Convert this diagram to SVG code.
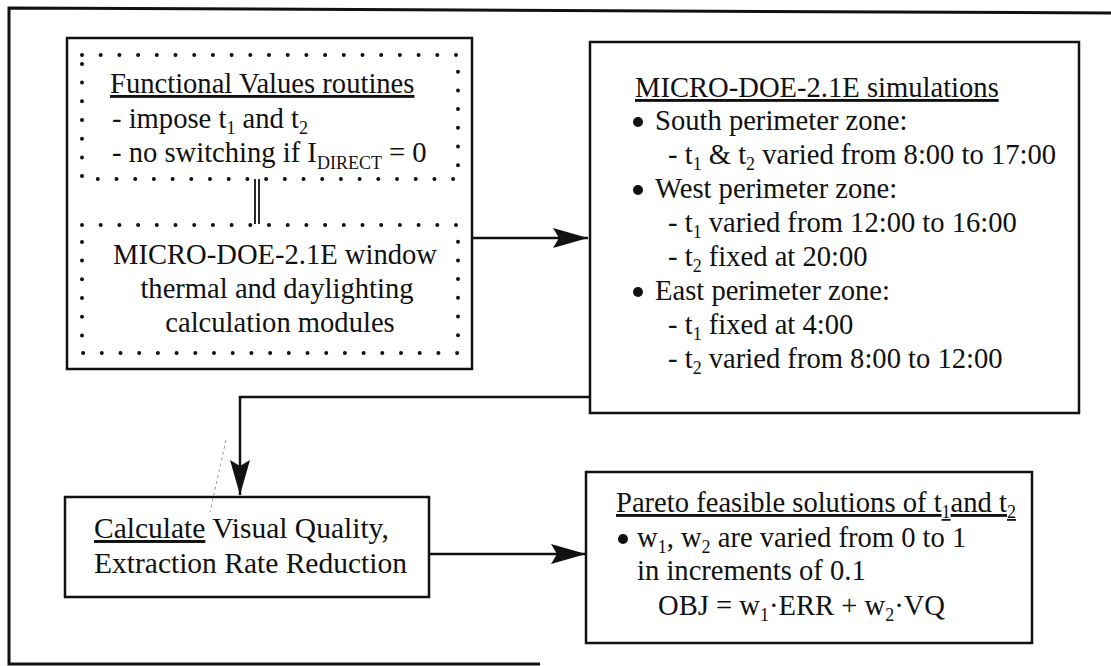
<svg xmlns="http://www.w3.org/2000/svg" width="1111" height="666" viewBox="0 0 1111 666">
<style>
.t{font-family:"Liberation Serif","Times New Roman",serif;font-size:28.6px;fill:#111}
.u{text-decoration:underline}
.s{font-size:18px}
.box{fill:#fff;stroke:#111;stroke-width:2.5}
.dot{fill:none;stroke:#111;stroke-width:4;stroke-linecap:round;stroke-dasharray:0 18.7}
.con{fill:none;stroke:#111;stroke-width:2.5}
</style>
<defs>
<marker id="ah" markerUnits="userSpaceOnUse" markerWidth="36" markerHeight="22" refX="35" refY="10" orient="auto">
<path d="M0,0 L35,10 L0,20 L6,10 z" fill="#111"/>
</marker>
</defs>
<rect width="1111" height="666" fill="#fff"/>
<path d="M1111,13 L9,8 L9,664 L540,664" fill="none" stroke="#111" stroke-width="3"/>

<g id="left-group">
<rect class="box" x="67" y="38" width="405" height="331"/>
</g>

<g id="functional-values">
<rect class="dot" x="82" y="55" width="376" height="124"/>
<text class="t u" x="110" y="93">Functional Values routines</text>
<text class="t" x="112" y="128">- impose t<tspan class="s" dy="6">1</tspan><tspan dy="-6"> and t</tspan><tspan class="s" dy="6">2</tspan></text>
<text class="t" x="112" y="162">- no switching if I<tspan class="s" dy="7">DIRECT</tspan><tspan dy="-7"> = 0</tspan></text>
</g>

<g id="window-modules">
<rect class="dot" x="82" y="225" width="376" height="128"/>
<text class="t" x="275" y="264" text-anchor="middle">MICRO-DOE-2.1E window</text>
<text class="t" x="277" y="298" text-anchor="middle">thermal and daylighting</text>
<text class="t" x="280" y="332" text-anchor="middle">calculation modules</text>
</g>

<g id="simulations">
<rect class="box" x="590" y="42" width="489" height="371"/>
<text class="t u" x="635" y="97">MICRO-DOE-2.1E simulations</text>
<circle cx="638" cy="122" r="5" fill="#111"/>
<text class="t" x="655" y="130">South perimeter zone:</text>
<text class="t" x="668" y="164">- t<tspan class="s" dy="6">1</tspan><tspan dy="-6"> &amp; t</tspan><tspan class="s" dy="6">2</tspan><tspan dy="-6"> varied from 8:00 to 17:00</tspan></text>
<circle cx="638" cy="190" r="5" fill="#111"/>
<text class="t" x="655" y="198">West perimeter zone:</text>
<text class="t" x="668" y="232">- t<tspan class="s" dy="6">1</tspan><tspan dy="-6"> varied from 12:00 to 16:00</tspan></text>
<text class="t" x="668" y="266">- t<tspan class="s" dy="6">2</tspan><tspan dy="-6"> fixed at 20:00</tspan></text>
<circle cx="638" cy="292" r="5" fill="#111"/>
<text class="t" x="655" y="300">East perimeter zone:</text>
<text class="t" x="668" y="334">- t<tspan class="s" dy="6">1</tspan><tspan dy="-6"> fixed at 4:00</tspan></text>
<text class="t" x="668" y="368">- t<tspan class="s" dy="6">2</tspan><tspan dy="-6"> varied from 8:00 to 12:00</tspan></text>
</g>

<g id="calculate">
<rect class="box" x="65" y="497" width="364" height="100"/>
<text class="t" x="94" y="538" style="font-size:29.5px"><tspan class="u">Calculate</tspan> Visual Quality,</text>
<text class="t" x="94" y="573" style="font-size:29.5px">Extraction Rate Reduction</text>
</g>

<g id="pareto">
<rect class="box" x="586" y="472" width="446" height="171"/>
<text class="t u" x="616" y="512">Pareto feasible solutions of t<tspan class="s" dy="6">1</tspan><tspan dy="-6">and t</tspan><tspan class="s" dy="6">2</tspan></text>
<circle cx="623" cy="539" r="5" fill="#111"/>
<text class="t" x="637" y="547">w<tspan class="s" dy="6">1</tspan><tspan dy="-6">, w</tspan><tspan class="s" dy="6">2</tspan><tspan dy="-6"> are varied from 0 to 1</tspan></text>
<text class="t" x="637" y="580">in increments of 0.1</text>
<text class="t" x="658" y="615">OBJ = w<tspan class="s" dy="6">1</tspan><tspan dy="-6">·ERR + w</tspan><tspan class="s" dy="6">2</tspan><tspan dy="-6">·VQ</tspan></text>
</g>

<g id="connectors">
<path d="M255,179 V224 M259,179 V224" fill="none" stroke="#111" stroke-width="1.8"/>
<path class="con" d="M472,238 H588" marker-end="url(#ah)"/>
<path class="con" d="M590,397 H240 V495" marker-end="url(#ah)"/>
<path class="con" d="M429,554 H586" marker-end="url(#ah)"/>
<path d="M226,440 L210,512" fill="none" stroke="#999" stroke-width="1" stroke-dasharray="3 3"/>
</g>
</svg>
